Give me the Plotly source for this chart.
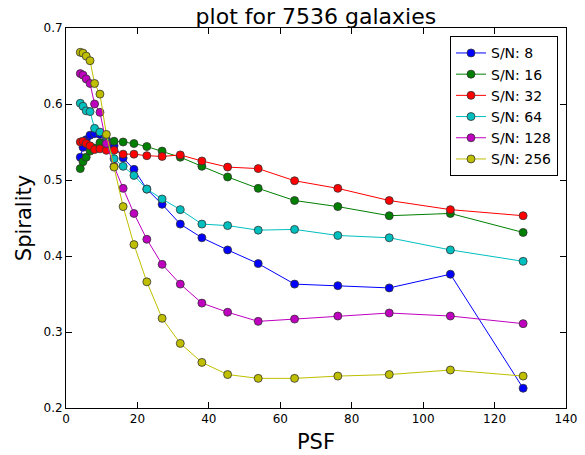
import plotly.graph_objects as go

psf = [4, 4.76, 5.66, 6.73, 8, 9.51, 11.31, 13.45, 16, 19.03, 22.63, 26.91,
       32, 38.05, 45.25, 53.82, 64, 76.11, 90.51, 107.63, 128]

sn8 = [0.530, 0.543, 0.553, 0.559, 0.561, 0.560, 0.553, 0.545, 0.529, 0.514, 0.488,
       0.468, 0.442, 0.424, 0.408, 0.390, 0.363, 0.361, 0.358, 0.376, 0.226]
sn16 = [0.515, 0.524, 0.530, 0.538, 0.542, 0.549, 0.550, 0.551, 0.550, 0.548, 0.544,
        0.538, 0.530, 0.518, 0.504, 0.489, 0.473, 0.465, 0.453, 0.456, 0.431]
sn32 = [0.550, 0.551, 0.548, 0.545, 0.540, 0.541, 0.539, 0.539, 0.534, 0.534, 0.532,
        0.531, 0.533, 0.525, 0.517, 0.515, 0.499, 0.489, 0.473, 0.461, 0.453]
sn64 = [0.601, 0.597, 0.591, 0.590, 0.568, 0.563, 0.550, 0.528, 0.518, 0.506, 0.488,
        0.475, 0.461, 0.442, 0.440, 0.434, 0.435, 0.427, 0.424, 0.408, 0.393]
sn128 = [0.640, 0.638, 0.633, 0.627, 0.600, 0.589, 0.548, 0.518, 0.489, 0.456, 0.422,
         0.389, 0.363, 0.338, 0.326, 0.314, 0.317, 0.321, 0.325, 0.321, 0.311]
sn256 = [0.668, 0.667, 0.663, 0.657, 0.627, 0.613, 0.560, 0.517, 0.465, 0.415, 0.366,
         0.318, 0.285, 0.260, 0.244, 0.239, 0.239, 0.242, 0.244, 0.250, 0.242]

series_names = ["S/N: 8", "S/N: 16", "S/N: 32", "S/N: 64", "S/N: 128", "S/N: 256"]
series_values = [sn8, sn16, sn32, sn64, sn128, sn256]
colors = ["#0000ff", "#008000", "#ff0000", "#00bfbf", "#bf00bf", "#bfbf00"]

fig = go.Figure()
for name, vals, c in zip(series_names, series_values, colors):
    fig.add_trace(go.Scatter(
        x=psf, y=vals, name=name, mode="lines+markers",
        line=dict(color=c, width=1),
        marker=dict(color=c, size=8, line=dict(color="#333333", width=0.8)),
    ))

font = "DejaVu Sans, Liberation Sans, sans-serif"
axis_common = dict(
    showline=True, linecolor="black", linewidth=1, mirror="ticks",
    ticks="inside", ticklen=6, tickcolor="black", showgrid=False, zeroline=False,
    automargin=False,
    tickfont=dict(family=font, size=12, color="black"),
)

fig.update_layout(
    width=585, height=455,
    margin=dict(l=66, r=19, t=28, b=47),
    paper_bgcolor="white", plot_bgcolor="white",
    font=dict(family=font, color="black"),
    title=dict(text="plot for 7536 galaxies", x=0.54, xanchor="center",
               y=0.965, yanchor="middle", yref="container",
               font=dict(family=font, size=22, color="black")),
    xaxis=dict(range=[0, 140], dtick=20, tick0=0,
               title=dict(text="PSF", font=dict(family=font, size=21), standoff=8),
               **axis_common),
    yaxis=dict(range=[0.2, 0.7], dtick=0.1, tick0=0.2, tickformat=".1f",
               title=dict(text="Spirality", font=dict(family=font, size=21), standoff=6),
               **axis_common),
    legend=dict(x=0.984, y=0.978, xanchor="right", yanchor="top",
                bgcolor="white", bordercolor="black", borderwidth=1,
                font=dict(family=font, size=14, color="black"),
                tracegroupgap=0),
    showlegend=True,
)

fig.write_html("out.html")
